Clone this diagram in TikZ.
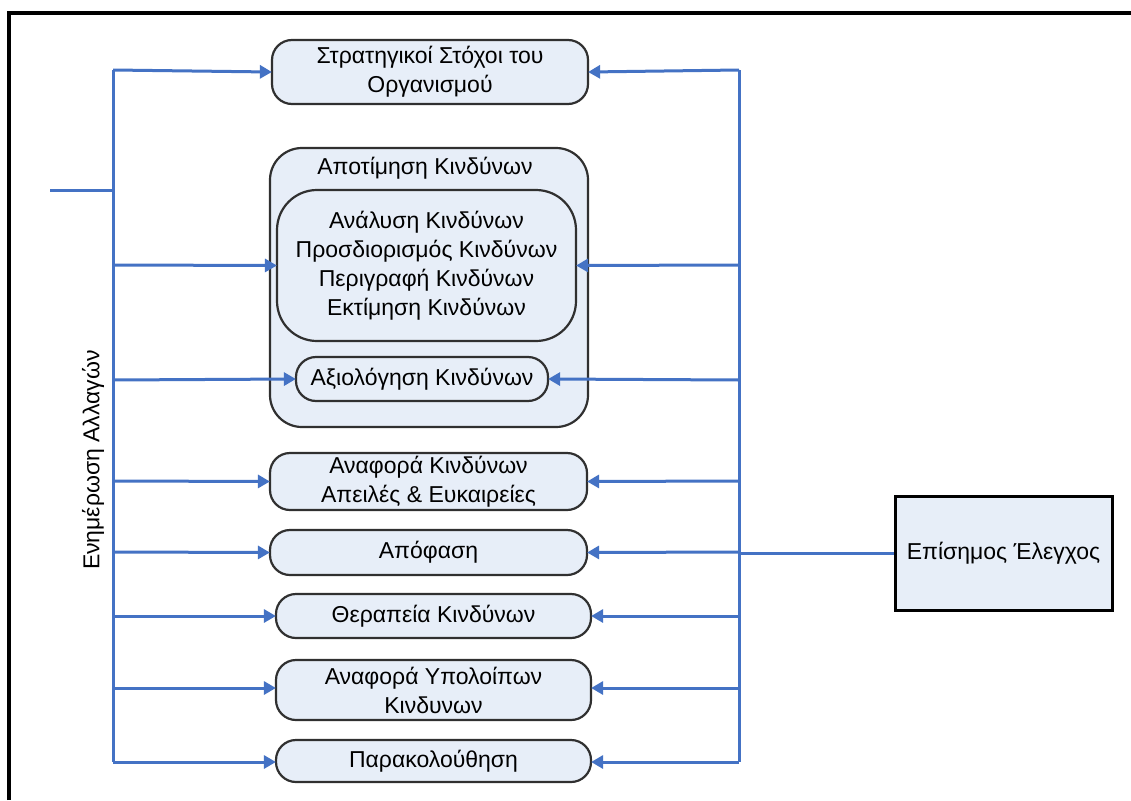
\documentclass[tikz,border=0pt]{standalone}
\usepackage{fontspec}
\setmainfont{Liberation Sans}
\usetikzlibrary{arrows.meta}
\definecolor{boxfill}{HTML}{E7EEF8}
\definecolor{busblue}{HTML}{4472C4}
\definecolor{edge}{HTML}{303030}
\tikzset{
  x=1pt, y=-1pt,
  txt/.style={font=\fontsize{23}{29}\selectfont, align=center},
  stepbox/.style={txt, draw=edge, line width=2.2pt, fill=boxfill, rounded corners=20pt, inner sep=0pt},
  bus/.style={draw=busblue, line width=3pt},
  arr/.style={bus, -{Triangle[length=12pt,width=13pt]}, shorten >=-1pt},
}
\begin{document}
\begin{tikzpicture}
\useasboundingbox (0,0) rectangle (1131,800);
\fill[white] (0,0) rectangle (1131,800);
% frame
\draw[line width=4pt] (9,800) -- (9,13) -- (1131,13);

% boxes
\node[stepbox, minimum width=316pt, minimum height=64pt] (s1) at (430,72) {Στρατηγικοί Στόχοι του\\Οργανισμού};
\node[stepbox, rounded corners=32pt, minimum width=318pt, minimum height=279pt] (outer) at (429,287.5) {};
\node[txt, anchor=center] (outerlbl) at (425,168) {Αποτίμηση Κινδύνων};
\node[stepbox, rounded corners=40pt, minimum width=299pt, minimum height=151pt] (inner) at (426.5,265.5) {Ανάλυση Κινδύνων\\Προσδιορισμός Κινδύνων\\Περιγραφή Κινδύνων\\Εκτίμηση Κινδύνων};
\node[stepbox, rounded corners=20pt, minimum width=252pt, minimum height=44pt] (s3) at (422,379) {Αξιολόγηση Κινδύνων};
\node[stepbox, minimum width=317pt, minimum height=57pt] (s4) at (428.5,481.5) {Αναφορά Κινδύνων\\Απειλές \& Ευκαιρείες};
\node[stepbox, minimum width=317pt, minimum height=45pt] (s5) at (428.5,552.5) {Απόφαση};
\node[stepbox, minimum width=315pt, minimum height=44pt] (s6) at (433.5,616) {Θεραπεία Κινδύνων};
\node[stepbox, minimum width=315pt, minimum height=60pt] (s7) at (433.5,690) {Αναφορά Υπολοίπων\\Κινδυνων};
\node[stepbox, minimum width=315pt, minimum height=42pt] (s8) at (433.5,761) {Παρακολούθηση};
\node[txt, draw=black, line width=3pt, fill=boxfill, minimum width=217pt, minimum height=114pt, inner sep=0pt] (ctrl) at (1003.5,553) {Επίσημος Έλεγχος};
\node[txt, rotate=90] (chg) at (93,460) {Ενημέρωση Αλλαγών};

% buses
\coordinate (Ltop) at (113,70);
\coordinate (Lbot) at (113,762);
\coordinate (Rtop) at (739,70);
\coordinate (Rbot) at (739,762);
\coordinate (Lin) at (50,190);
\draw[bus] (Ltop) -- (Lbot);
\draw[bus] (Rtop) -- (Rbot);
\draw[bus] (Lin) -- (113,190);
\draw[bus] (ctrl.west) -- (739,553);

% left arrows
\draw[arr] (Ltop) -- (s1.west);
\draw[arr] (113,265) -- (inner.west);
\draw[arr] (113,380) -- (s3.west);
\draw[arr] (113,481) -- (s4.west);
\draw[arr] (113,552) -- (s5.west);
\draw[arr] (113,616) -- (s6.west);
\draw[arr] (113,688) -- (s7.west |- 0,688);
\draw[arr] (Lbot) -- (s8.west |- 0,762);
% right arrows
\draw[arr] (Rtop) -- (s1.east);
\draw[arr] (739,265) -- (inner.east);
\draw[arr] (739,380) -- (s3.east);
\draw[arr] (739,481) -- (s4.east);
\draw[arr] (739,552) -- (s5.east);
\draw[arr] (739,616) -- (s6.east);
\draw[arr] (739,688) -- (s7.east |- 0,688);
\draw[arr] (Rbot) -- (s8.east |- 0,762);
\end{tikzpicture}
\end{document}
